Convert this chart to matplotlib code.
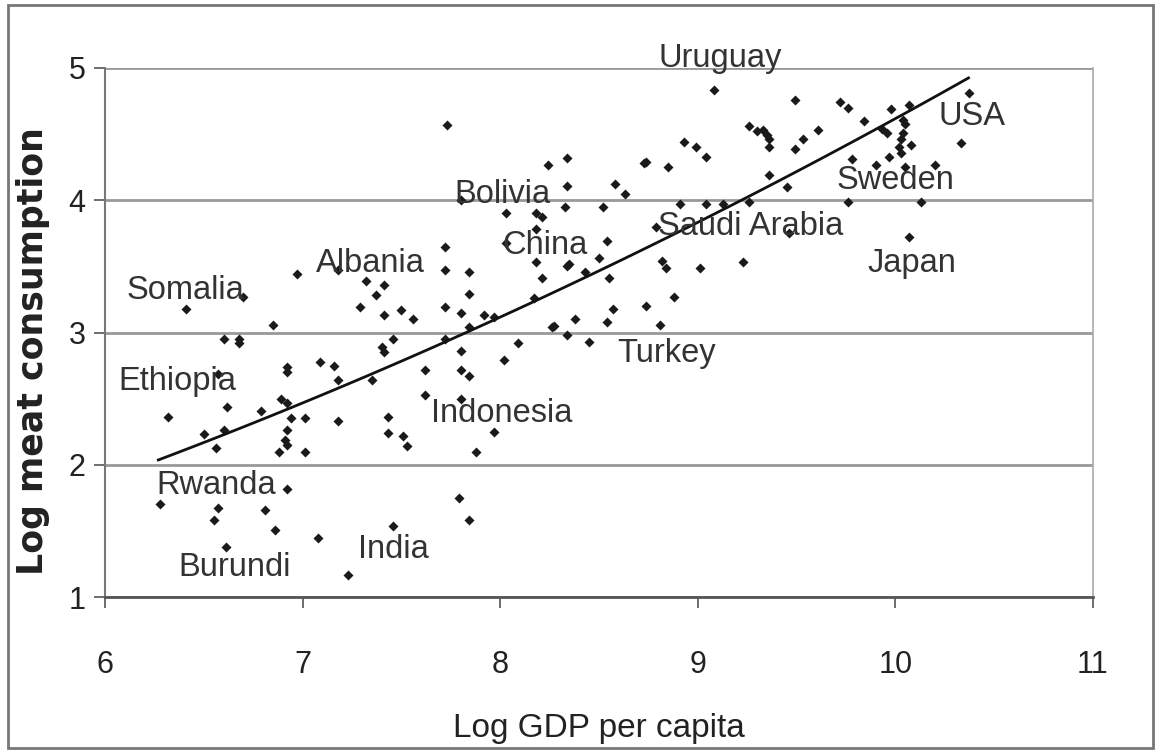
import numpy as np
import matplotlib
matplotlib.use("Agg")
import matplotlib.pyplot as plt
from matplotlib.patches import Rectangle

plt.rcParams['font.family'] = ['Liberation Sans Narrow', 'Liberation Sans', 'DejaVu Sans']

# log GDP per capita / log meat consumption, one pair per country
gdp = [7.73, 6.97, 7.18, 7.72, 7.72, 7.32, 7.41, 7.37, 7.29, 7.41, 7.50, 7.56, 7.72,
       6.70, 6.41, 6.85,
       6.60, 6.68, 6.68, 7.46, 7.40, 7.41, 7.72, 6.92, 6.92, 7.09, 7.16, 7.62, 6.57,
       6.62, 6.32, 6.79, 6.89, 6.92, 6.94, 7.01, 7.18, 7.18, 7.35, 7.62, 7.43, 7.43,
       7.51, 7.53, 6.50, 6.60, 6.56, 6.92, 6.91, 6.92, 6.88, 7.01, 6.92, 6.28, 6.57,
       6.55, 6.81, 6.86, 7.08, 7.46, 6.61, 7.23,
       9.08, 9.26, 8.93, 8.99, 9.04, 8.73, 8.74, 8.85, 8.24, 8.34, 8.34, 8.58, 8.63,
       7.80, 8.33, 8.52, 8.03, 8.18, 8.21, 8.18, 8.91, 9.04, 9.13, 8.79, 8.03, 8.54,
       7.84, 8.18, 8.34, 8.35, 8.43, 8.50, 8.55, 8.21, 8.82, 8.84, 9.01, 9.23, 7.84,
       7.80, 7.92, 7.97, 8.17, 8.38, 8.57, 8.54, 8.74, 8.88, 8.81, 8.27,
       7.84, 8.26, 8.34, 8.45, 8.09, 8.02, 7.80, 7.80, 7.84, 7.80, 7.97, 7.88, 7.79,
       7.84,
       9.49, 9.72, 9.76, 9.84, 9.98, 10.07, 10.37, 10.04, 10.05, 9.93, 9.96, 10.04,
       10.03, 10.02, 10.08, 10.03, 10.33, 9.97, 9.78, 9.90, 10.05, 10.20, 9.30, 9.33,
       9.35, 9.36, 9.36, 9.53, 9.49, 9.61, 9.36, 9.45, 9.26, 9.76, 10.13, 10.07, 9.46]
meat = [4.57, 3.44, 3.47, 3.65, 3.47, 3.39, 3.36, 3.28, 3.19, 3.13, 3.17, 3.10, 3.19,
        3.27, 3.18, 3.06,
        2.95, 2.95, 2.92, 2.95, 2.89, 2.85, 2.95, 2.74, 2.70, 2.78, 2.75, 2.72, 2.69,
        2.44, 2.36, 2.41, 2.50, 2.47, 2.35, 2.35, 2.64, 2.33, 2.64, 2.53, 2.36, 2.24,
        2.22, 2.14, 2.23, 2.26, 2.13, 2.26, 2.19, 2.15, 2.10, 2.10, 1.82, 1.70, 1.67,
        1.58, 1.66, 1.51, 1.45, 1.54, 1.38, 1.17,
        4.83, 4.56, 4.44, 4.40, 4.33, 4.28, 4.29, 4.25, 4.27, 4.32, 4.11, 4.12, 4.05,
        4.00, 3.95, 3.95, 3.90, 3.90, 3.87, 3.78, 3.97, 3.97, 3.97, 3.80, 3.68, 3.69,
        3.46, 3.53, 3.50, 3.52, 3.46, 3.56, 3.41, 3.41, 3.54, 3.49, 3.49, 3.53, 3.29,
        3.15, 3.13, 3.12, 3.26, 3.10, 3.18, 3.08, 3.20, 3.27, 3.06, 3.05,
        3.04, 3.04, 2.98, 2.93, 2.92, 2.79, 2.86, 2.72, 2.67, 2.50, 2.25, 2.10, 1.75,
        1.58,
        4.76, 4.74, 4.70, 4.60, 4.69, 4.72, 4.81, 4.61, 4.58, 4.54, 4.51, 4.51,
        4.46, 4.40, 4.42, 4.36, 4.43, 4.33, 4.31, 4.27, 4.25, 4.27, 4.52, 4.53,
        4.49, 4.46, 4.40, 4.46, 4.39, 4.53, 4.19, 4.10, 3.99, 3.99, 3.99, 3.72, 3.75]

# points
trend_x = [6.27, 6.98, 7.60, 8.22, 9.02, 9.52, 10.03, 10.37]
trend_y = [2.04, 2.45, 2.85, 3.25, 3.89, 4.23, 4.59, 4.955]

countries = ["Uruguay", "USA", "Sweden", "Saudi Arabia", "Japan", "Bolivia", "China",
             "Albania", "Somalia", "Turkey", "Ethiopia", "Indonesia", "Rwanda",
             "India", "Burundi"]
label_pos = [(8.80, 5.07), (10.22, 4.63), (9.70, 4.15), (8.80, 3.80), (9.86, 3.52),
             (7.77, 4.04), (8.01, 3.66), (7.07, 3.52), (6.11, 3.32), (8.59, 2.84),
             (6.07, 2.63), (7.65, 2.39), (6.26, 1.84), (7.28, 1.36), (6.37, 1.22)]

fig = plt.figure(figsize=(11.56, 7.51), dpi=100)
ax = fig.add_axes([0.0908, 0.205, 0.8547, 0.7045])

# outer frame round the whole figure
fig.patches.append(Rectangle((0.007, 0.004), 0.99, 0.99, transform=fig.transFigure,
                             fill=False, edgecolor="#777777", linewidth=2))

ax.set_xlim(6, 11)
ax.set_ylim(1, 5)
ax.set_xticks(range(6, 12))
ax.set_yticks(range(1, 6))
ax.grid(axis="y", color="#999999", linewidth=2)
ax.set_axisbelow(True)

ax.spines["top"].set_visible(False)
ax.spines["right"].set_color("#aaaaaa")
ax.spines["right"].set_linewidth(1.2)
ax.spines["left"].set_color("#777777")
ax.spines["left"].set_linewidth(1.5)
ax.spines["bottom"].set_color("#555555")
ax.spines["bottom"].set_linewidth(2)

ax.tick_params(axis="both", direction="out", length=8, width=1.2, colors="#555555",
               labelcolor="#222222", labelsize=22, pad=6)
ax.tick_params(axis="x", pad=30)

ax.scatter(gdp, meat, marker="D", s=26, color="#1a1a1a", zorder=3, linewidths=0)

coef = np.polyfit(trend_x, trend_y, 2)
xs = np.linspace(trend_x[0], trend_x[-1], 100)
ax.plot(xs, np.polyval(coef, xs), color="#111111", linewidth=2, zorder=4)

for name, (lx, ly) in zip(countries, label_pos):
    ax.text(lx, ly, name, ha="left", va="center", fontsize=23.5,
            family=["Liberation Sans", "DejaVu Sans"], color="#333333", zorder=5)

ax.set_xlabel("Log GDP per capita", fontsize=24, color="#222222", labelpad=24,
              family=["Liberation Sans", "DejaVu Sans"])
ax.set_ylabel("Log meat consumption", fontsize=25, color="#222222",
              fontweight="bold", family=["DejaVu Sans"])
ax.yaxis.set_label_coords(-0.056, 0.465)

fig.savefig("out.png", dpi=100, facecolor="white")
